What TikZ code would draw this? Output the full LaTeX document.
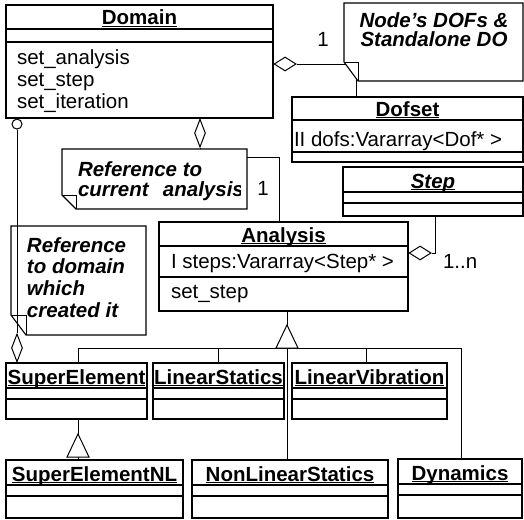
\documentclass[tikz,border=0pt]{standalone}
\usepackage{fontspec}
\setmainfont{Liberation Sans}
\usetikzlibrary{fit,shapes.geometric}
\newcommand\fs{\fontsize{20.5}{22}\selectfont}
\newsavebox\ulbox
\newcommand\ul[1]{\sbox\ulbox{#1}\rlap{\rule[-2.2pt]{\wd\ulbox}{1.3pt}}\usebox\ulbox}
\tikzset{
  cls/.style={draw, line width=1.2pt, inner sep=0pt},
  sepline/.style={line width=1.1pt},
  conn/.style={line width=1pt},
  txt/.style={inner sep=0pt, outer sep=0pt, font=\fs},
  ntxt/.style={inner sep=0pt, outer sep=0pt, font=\fs\bfseries\itshape},
  notebox/.style={line width=1.1pt, fill=white},
  diaH/.style={diamond, draw, fill=white, line width=1pt, inner sep=0pt, minimum width=22pt, minimum height=14pt},
  diaV/.style={diamond, draw, fill=white, line width=1pt, inner sep=0pt, minimum width=11pt, minimum height=28pt},
  refcirc/.style={circle, draw, fill=white, line width=1pt, inner sep=0pt, minimum size=10pt},
}
% name, x1, y1, x2, y2, sep1, sep2, title
\newcommand\uclass[8]{%
  \coordinate (#1-nw) at (#2,#3);
  \coordinate (#1-se) at (#4,#5);
  \node[cls, fit=(#1-nw)(#1-se)] (#1) {};
  \draw[sepline] (#2,#6) -- (#4,#6) (#2,#7) -- (#4,#7);
  \begin{scope}
    \clip (#2,#3) rectangle (#4,#5);
    \node[txt, anchor=base] (#1-title) at ({(#2+#4)/2},{#6-4}) {#8};
  \end{scope}
}
% name, x1, y1, x2, y2, fold w, fold h
\newcommand\unote[7]{%
  \draw[notebox] (#2,#3) -- (#4,#3) -- (#4,#5) -- ({#2+#6},#5) -- (#2,{#5-#7}) -- cycle;
  \draw[line width=1pt] (#2,{#5-#7}) -- ({#2+#6},{#5-#7}) -- ({#2+#6},#5);
  \coordinate (#1) at ({(#2+#4)/2},{(#3+#5)/2});
}
\begin{document}
\begin{tikzpicture}[x=1pt,y=-1pt]
\useasboundingbox (0,0) rectangle (524,519);

% classes
\uclass{domain}{6}{5}{273}{118}{29}{42}{\bfseries\ul{Domain}}
\uclass{dofset}{292}{97}{523}{162}{120}{152}{\bfseries\ul{Dofset}}
\uclass{step}{343}{167}{523}{216}{192}{203}{\bfseries\itshape\ul{Step}}
\uclass{analysis}{159}{222}{408}{311}{246}{277}{\bfseries\ul{Analysis}}
\uclass{superelement}{6}{363}{147}{419}{388}{399}{\bfseries\ul{SuperElement}}
\uclass{linearstatics}{153}{363}{284}{419}{388}{399}{\bfseries\ul{LinearStatics}}
\uclass{linearvibration}{292}{363}{447}{419}{388}{399}{\bfseries\ul{LinearVibration}}
\uclass{superelementnl}{6}{460}{183}{518}{485}{496}{\bfseries\ul{SuperElementNL}}
\uclass{nonlinearstatics}{192}{460}{388}{518}{485}{496}{\bfseries\ul{NonLinearStatics}}
\uclass{dynamics}{398}{459}{522}{518}{484}{495}{\bfseries\ul{Dynamics}}

% members
\node[txt, anchor=base west] (dm1) at (17,64) {set\_analysis};
\node[txt, anchor=base west] (dm2) at (17,86) {set\_step};
\node[txt, anchor=base west] (dm3) at (17,108) {set\_iteration};
\node[txt, anchor=base west] (ds1) at (294,146) {II dofs:Vararray<Dof* >};
\node[txt, anchor=base west] (an1) at (171,268) {I steps:Vararray<Step* >};
\node[txt, anchor=base west] (an2) at (171,298) {set\_step};

% note: reference to domain (drawn under its connector)
\unote{note3}{11}{226}{146}{335}{15}{20}
\node[ntxt, anchor=base west] (n3a) at (27,252) {Reference};
\node[ntxt, anchor=base west] (n3b) at (27,273) {to domain};
\node[ntxt, anchor=base west] (n3c) at (27,295) {which};
\node[ntxt, anchor=base west] (n3d) at (27,317) {created it};

% helper coordinates
\coordinate (y64) at (0,64);
\coordinate (x356) at (356,0);
\coordinate (x200) at (200,0);
\coordinate (y157) at (0,157);
\coordinate (x279) at (279,0);
\coordinate (y253) at (0,253);
\coordinate (x435) at (435,0);
\coordinate (x17) at (17,0);
\coordinate (x78) at (78,0);
\coordinate (x218) at (218,0);
\coordinate (x366) at (366,0);
\coordinate (x287) at (287,0);
\coordinate (x461) at (461,0);
\coordinate (ybus) at (0,348);
\coordinate (gen1) at (287,325);
\coordinate (gen2) at (78,434);

% aggregations
\node[diaH, anchor=west] (agg1) at (domain.east |- y64) {};
\draw[conn] (agg1.east) -| (x356 |- dofset.north);
\node[diaV, anchor=north] (agg2) at (domain.south -| x200) {};
\draw[conn] (agg2.south) |- (x279 |- y157) -- (x279 |- analysis.north);
\node[diaH, anchor=west] (agg3) at (analysis.east |- y253) {};
\draw[conn] (agg3.east) -| (x435 |- step.south);
\node[refcirc, anchor=north] (ref1) at (domain.south -| x17) {};
\node[diaV, anchor=south] (agg4) at (superelement.north -| x17) {};
\draw[conn] (ref1.south) -- (agg4.north);

% generalizations
\draw[conn] (x287 |- analysis.south) -- (x287 |- nonlinearstatics.north);
\draw[conn] (x78 |- superelement.north) -- (x78 |- ybus) -- (x461 |- ybus) -- (x461 |- dynamics.north);
\draw[conn] (x218 |- ybus) -- (x218 |- linearstatics.north);
\draw[conn] (x366 |- ybus) -- (x366 |- linearvibration.north);
\draw[conn, fill=white] (gen1) -- ++(-11,23) -- ++(22,0) -- cycle;
\draw[conn] (x78 |- superelement.south) -- (x78 |- superelementnl.north);
\draw[conn, fill=white] (gen2) -- ++(-11,23) -- ++(22,0) -- cycle;

% multiplicities
\node[txt, anchor=base] (m1) at (323,47) {1};
\node[txt, anchor=base] (m2) at (263,195) {1};
\node[txt, anchor=base west] (m3) at (443,268) {1..n};

% notes over connectors
\unote{note1}{344}{3}{523}{81}{14}{19}
\node[ntxt, anchor=base] (n1a) at (434,28) {Node's DOFs \&};
\node[ntxt, anchor=base] (n1b) at (434,47) {Standalone DO};

\unote{note2}{62}{149}{247}{209}{14}{14}
\begin{scope}
  \clip (62,149) rectangle (240,209);
  \node[ntxt, anchor=base west] (n2a) at (78,176) {Reference to};
  \node[ntxt, anchor=base west] (n2b) at (78,196) {current\hspace{0.7em}analysis};
\end{scope}
\end{tikzpicture}
\end{document}
